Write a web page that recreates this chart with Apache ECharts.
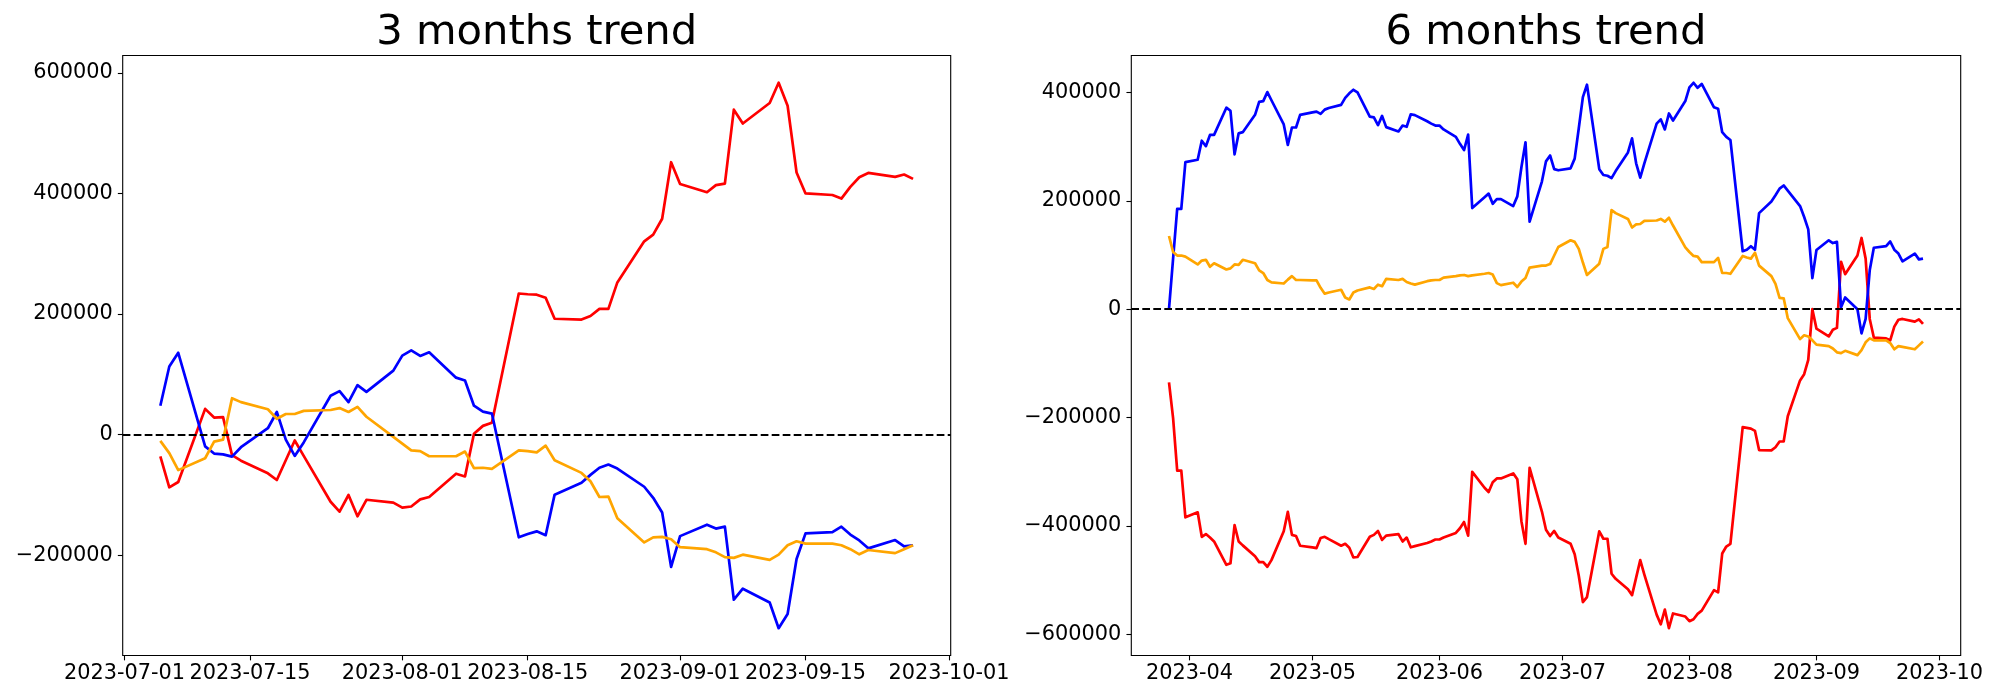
<!DOCTYPE html>
<html><head><meta charset="utf-8">
<script src="https://cdn.jsdelivr.net/npm/echarts@6/dist/echarts.min.js"></script>
<style>html,body{margin:0;padding:0;background:#fff}#c{width:2000px;height:700px}</style>
</head><body><div id="c"></div>
<script>
// ---------- 3 months trend ----------
const dates3 = ['2023-07-05','2023-07-06','2023-07-07','2023-07-10','2023-07-11','2023-07-12','2023-07-13','2023-07-14','2023-07-17','2023-07-18','2023-07-19','2023-07-20','2023-07-21','2023-07-24','2023-07-25','2023-07-26','2023-07-27','2023-07-28','2023-07-31',
'2023-08-01','2023-08-02','2023-08-03','2023-08-04','2023-08-07','2023-08-08','2023-08-09','2023-08-10','2023-08-11','2023-08-14','2023-08-15','2023-08-16','2023-08-17','2023-08-18','2023-08-21','2023-08-22','2023-08-23','2023-08-24','2023-08-25','2023-08-28','2023-08-29','2023-08-30','2023-08-31',
'2023-09-01','2023-09-04','2023-09-05','2023-09-06','2023-09-07','2023-09-08','2023-09-11','2023-09-12','2023-09-13','2023-09-14','2023-09-15','2023-09-18','2023-09-19','2023-09-20','2023-09-21','2023-09-22','2023-09-25','2023-09-26','2023-09-27'];
const blue3 = [47900,112800,135700,-19700,-31500,-32800,-36700,-21000,10500,37400,-8500,-35400,-13000,64300,72100,53800,82000,70800,106000,
131000,139700,130500,136400,94400,89800,47900,38000,34800,-170500,-165000,-160600,-167000,-99700,-80000,-66900,-55000,-49800,-56400,-86600,-104900,-129200,-219700,
-168500,-149500,-156000,-152800,-274000,-255700,-278700,-321300,-297700,-206500,-164000,-162000,-152800,-165900,-175700,-188800,-175000,-185600,-183600];
const red3 = [-36000,-87500,-78700,42600,28200,28900,-34100,-43300,-64300,-75400,-42600,-9800,-35400,-111500,-127900,-100300,-135700,-108200,-112800,
-121300,-119300,-107500,-103600,-64900,-69500,1300,14400,19700,234000,232800,232100,226900,192100,190800,196700,208500,208500,252400,320600,331800,358000,451800,
415700,402000,413800,416400,539000,516000,550000,583600,545500,434700,400000,397400,391500,411000,426900,434000,427500,431400,424200];
const orange3 = [-10500,-30800,-59000,-39300,-11800,-8500,60300,53800,42000,26200,34100,34100,39300,40700,43900,37400,45900,29500,-3900,
-15100,-26200,-27500,-36000,-36000,-28200,-55700,-55100,-57000,-26200,-27500,-29500,-18400,-42600,-63600,-77400,-103600,-102900,-139000,-179000,-170500,-169800,-173700,
-186800,-190200,-195400,-203300,-204600,-199300,-207900,-199300,-183600,-177000,-181000,-181000,-183600,-190200,-198700,-191500,-196700,-190200,-183600];
const xTicks3 = ['2023-07-01','2023-07-15','2023-08-01','2023-08-15','2023-09-01','2023-09-15','2023-10-01'];
const xLabels3 = ['2023-07-01','2023-07-15','2023-08-01','2023-08-15','2023-09-01','2023-09-15','2023-10-01'];
const yTicks3 = [-200000,0,200000,400000,600000];

// ---------- 6 months trend ----------
const dates6 = ['2023-03-27','2023-03-28','2023-03-29','2023-03-30','2023-03-31',
'2023-04-03','2023-04-04','2023-04-05','2023-04-06','2023-04-07','2023-04-10','2023-04-11','2023-04-12','2023-04-13','2023-04-14','2023-04-17','2023-04-18','2023-04-19','2023-04-20','2023-04-21','2023-04-24','2023-04-25','2023-04-26','2023-04-27','2023-04-28',
'2023-05-01','2023-05-02','2023-05-03','2023-05-04','2023-05-05','2023-05-08','2023-05-09','2023-05-10','2023-05-11','2023-05-12','2023-05-15','2023-05-16','2023-05-17','2023-05-18','2023-05-19','2023-05-22','2023-05-23','2023-05-24','2023-05-25','2023-05-26','2023-05-29','2023-05-30','2023-05-31',
'2023-06-01','2023-06-02','2023-06-05','2023-06-06','2023-06-07','2023-06-08','2023-06-09','2023-06-12','2023-06-13','2023-06-14','2023-06-15','2023-06-16','2023-06-19','2023-06-20','2023-06-21','2023-06-22','2023-06-23','2023-06-26','2023-06-27','2023-06-28','2023-06-29','2023-06-30',
'2023-07-03','2023-07-04','2023-07-05','2023-07-06','2023-07-07','2023-07-10','2023-07-11','2023-07-12','2023-07-13','2023-07-14','2023-07-17','2023-07-18','2023-07-19','2023-07-20','2023-07-21','2023-07-24','2023-07-25','2023-07-26','2023-07-27','2023-07-28','2023-07-31',
'2023-08-01','2023-08-02','2023-08-03','2023-08-04','2023-08-07','2023-08-08','2023-08-09','2023-08-10','2023-08-11','2023-08-14','2023-08-15','2023-08-16','2023-08-17','2023-08-18','2023-08-21','2023-08-22','2023-08-23','2023-08-24','2023-08-25','2023-08-28','2023-08-29','2023-08-30','2023-08-31',
'2023-09-01','2023-09-04','2023-09-05','2023-09-06','2023-09-07','2023-09-08','2023-09-11','2023-09-12','2023-09-13','2023-09-14','2023-09-15','2023-09-18','2023-09-19','2023-09-20','2023-09-21','2023-09-22','2023-09-25','2023-09-26','2023-09-27'];
const blue6 = [0,93400,185300,185300,271600,
275900,311100,301000,321800,321800,372100,366400,285900,324700,326900,358900,382900,384300,400900,385800,341200,303200,335500,335500,358900,
363500,364900,360600,368500,371400,377200,390100,398700,405200,400200,355600,354200,339800,357000,336200,328300,339100,336900,359900,358400,347000,342700,339100,
339100,331900,318200,305300,293800,322500,186800,206900,213400,194700,203300,203300,190400,208300,262200,308200,161600,235600,273000,283800,258600,256500,
260100,278000,334100,391500,414500,258600,247800,246400,242100,255000,289500,315400,269400,242800,269400,342700,350600,331900,361400,348400,384300,
409500,418100,408800,416000,372800,370000,326900,318200,312500,107000,109900,116400,109900,177400,199000,210500,222700,228500,219100,190400,170300,147300,57500,
109200,127200,122100,124300,3600,21600,0,-44500,-18000,71800,113500,116400,125000,109900,102700,88400,102700,92000,93400];
const red6 = [-135100,-201200,-298100,-298100,-384300,
-375000,-420300,-415200,-421700,-428900,-472000,-469100,-398700,-428900,-436100,-456200,-467000,-467000,-475600,-463400,-410200,-374300,-416700,-418800,-436800,
-439700,-441100,-422400,-420300,-424600,-436800,-433200,-440400,-458400,-457600,-420300,-416700,-409500,-426000,-418100,-415200,-428900,-421700,-439700,-437500,-431800,-428900,-425300,
-425300,-421700,-413100,-404500,-393000,-418100,-300300,-329700,-337600,-319700,-312500,-312500,-303200,-313900,-391500,-433200,-293100,-373600,-407300,-418800,-409500,-421700,
-433200,-452600,-492100,-540900,-531600,-410200,-423900,-423900,-488500,-497900,-517300,-528000,-495700,-463400,-490000,-564000,-581900,-554600,-589100,-561800,-567500,
-576100,-572500,-562500,-556700,-518700,-523000,-451200,-438200,-433200,-217700,-219100,-220500,-224800,-260100,-260800,-255000,-244300,-244300,-197600,-131500,-120000,-93400,0,
-35900,-50300,-38100,-34500,87600,64700,99100,131500,93400,-18000,-52400,-53900,-57500,-32300,-19400,-18000,-23000,-18700,-27300];
const orange6 = [135100,105600,99100,99100,97000,
82600,89800,91200,78300,84800,73300,75400,82600,81900,91200,84800,71800,66800,53900,49600,47400,54600,61100,53900,53900,
53200,53200,39500,28700,30900,35900,21600,18000,30900,34500,40200,37400,45300,42400,56000,53900,56000,50300,47400,45300,51700,53200,53900,
53900,58200,61100,62500,63200,61100,62500,65400,66800,63900,48100,44500,48900,40900,51000,57500,76900,80500,80500,83300,99100,114900,
127200,124300,111400,86200,63200,84100,111400,114900,183200,177400,166700,150900,156600,157300,163100,163800,166700,161600,168800,154500,114200,
105600,98400,97000,86900,86900,94800,66800,66800,65400,98400,95500,93400,104200,80500,61100,46700,20800,20100,-16500,-55300,-48100,-50300,-57500,
-65400,-68200,-72600,-79700,-81200,-76900,-84800,-75400,-61100,-53900,-57500,-57500,-62500,-74000,-68200,-69700,-74000,-66800,-59600];
const xTicks6 = ['2023-04-01','2023-05-01','2023-06-01','2023-07-01','2023-08-01','2023-09-01','2023-10-01'];
const xLabels6 = ['2023-04','2023-05','2023-06','2023-07','2023-08','2023-09','2023-10'];
const yTicks6 = [-600000,-400000,-200000,0,200000,400000];

// ---------- helpers ----------
function dayNum(s){const p=s.split('-').map(Number);return Date.UTC(p[0],p[1]-1,p[2])/86400000;}
function pairs(dates, vals){return dates.map((d,i)=>[dayNum(d), vals[i]]);}
function xRange(dates){const a=dayNum(dates[0]), b=dayNum(dates[dates.length-1]);const m=(b-a)*0.05;return [a-m,b+m];}
function yRange(arrs){let lo=Infinity,hi=-Infinity;arrs.forEach(a=>a.forEach(v=>{lo=Math.min(lo,v);hi=Math.max(hi,v);}));const m=(hi-lo)*0.05;return [lo-m,hi+m];}
function fmtNum(v){return v<0?'\u2212'+Math.abs(v):String(v);}

const FONT='DejaVu Sans';
const labelStyle={color:'#000',fontSize:20.83,fontFamily:FONT};
const tickStyle={show:true,inside:false,length:4.86,lineStyle:{color:'#000',width:1.1}};

function xAxis(gi, dates, ticks, labels){
  const r=xRange(dates);
  const map={};ticks.forEach((t,i)=>{map[dayNum(t)]=labels[i];});
  const vals=ticks.map(dayNum);
  return {type:'value',gridIndex:gi,position:'bottom',min:r[0],max:r[1],splitLine:{show:false},
    axisLine:{show:false,onZero:false},
    axisTick:Object.assign({customValues:vals},tickStyle),
    axisLabel:Object.assign({customValues:vals,margin:8,hideOverlap:false,formatter:v=>map[Math.round(v)]||''},labelStyle)};
}
function yAxis(gi, arrs, ticks){
  const r=yRange(arrs);
  return {type:'value',gridIndex:gi,position:'left',min:r[0],max:r[1],splitLine:{show:false},
    axisLine:{show:false,onZero:false},
    axisTick:Object.assign({customValues:ticks},tickStyle),
    axisLabel:Object.assign({customValues:ticks,margin:10,formatter:v=>fmtNum(Math.round(v))},labelStyle)};
}
function line(gi, dates, vals, color, withZero){
  const s={type:'line',xAxisIndex:gi,yAxisIndex:gi,data:pairs(dates,vals),showSymbol:false,symbol:'none',
    lineStyle:{color:color,width:2.7,join:'round'},itemStyle:{color:color},silent:true,animation:false};
  if(withZero){
    s.markLine={silent:true,symbol:['none','none'],label:{show:false},animation:false,
      lineStyle:{color:'#000',width:2.08,type:[7.7,3.3]},data:[{yAxis:0}]};
  }
  return s;
}

const chart=echarts.init(document.getElementById('c'),null,{renderer:'canvas'});
chart.setOption({
  animation:false,
  backgroundColor:'#fff',
  graphic:[
    {type:'text',x:536.7,y:33.3,style:{text:'3 months trend',fontSize:41.67,fontFamily:FONT,fill:'#000',align:'center',verticalAlign:'middle',textAlign:'center',textVerticalAlign:'middle'}},
    {type:'text',x:1546,y:33.3,style:{text:'6 months trend',fontSize:41.67,fontFamily:FONT,fill:'#000',align:'center',verticalAlign:'middle',textAlign:'center',textVerticalAlign:'middle'}}
  ],
  grid:[
    {left:122.7,top:55.5,width:828,height:600,show:true,borderColor:'#000',borderWidth:1.1,backgroundColor:'transparent',containLabel:false},
    {left:1131.3,top:55.5,width:829.4,height:600,show:true,borderColor:'#000',borderWidth:1.1,backgroundColor:'transparent',containLabel:false}
  ],
  xAxis:[xAxis(0,dates3,xTicks3,xLabels3), xAxis(1,dates6,xTicks6,xLabels6)],
  yAxis:[yAxis(0,[blue3,red3,orange3],yTicks3), yAxis(1,[blue6,red6,orange6],yTicks6)],
  series:[
    line(0,dates3,red3,'#ff0000',true),
    line(0,dates3,blue3,'#0000ff',false),
    line(0,dates3,orange3,'#ffa500',false),
    line(1,dates6,red6,'#ff0000',true),
    line(1,dates6,blue6,'#0000ff',false),
    line(1,dates6,orange6,'#ffa500',false)
  ]
});
</script></body></html>
